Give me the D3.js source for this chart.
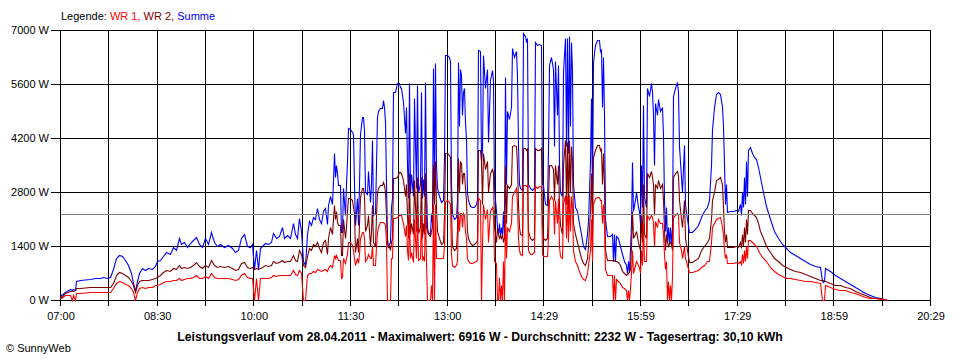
<!DOCTYPE html>
<html><head><meta charset="utf-8">
<script src="https://cdn.jsdelivr.net/npm/d3@7"></script>
<style>
body{margin:0;background:#fff;}
svg{display:block;font-family:"Liberation Sans",Arial,sans-serif;}
</style></head><body>
<svg id="chart" width="960" height="360"></svg>
<script>
// time of each sample in minutes after 07:00
const times = [
0,0.9,4.7,9.3,11.2,12.1,14.0,14.9,18.6,27.9,
32.6,37.2,40.0,43.7,46.5,49.3,52.1,54.9,57.7,60.5,
63.2,66.0,67.9,69.8,71.6,73.5,76.3,79.1,81.8,85.6,
88.4,90.2,93.0,95.8,98.6,102.3,105.1,107.9,110.7,112.5,
115.3,118.1,120.9,123.7,126.5,129.3,132.1,134.9,137.6,140.4,
143.2,146.0,148.8,152.5,156.2,160.0,162.8,165.5,168.3,171.1,
173.9,176.7,178.6,180.4,182.3,184.1,186.0,187.9,190.7,193.4,
196.2,198.1,200.9,203.7,206.5,208.3,211.1,213.9,216.7,218.6,
220.4,222.3,224.1,226.0,227.9,229.7,231.6,233.4,235.3,237.2,
239.0,240.9,242.7,244.6,246.5,248.3,249.2,251.1,253.0,253.9,
254.8,255.8,256.7,257.6,258.5,260.4,261.3,262.3,263.2,265.1,
266.0,266.9,267.8,269.7,271.6,272.5,273.4,274.4,276.2,277.1,
278.1,279.0,280.9,281.8,282.7,283.7,285.5,286.4,288.3,289.2,
290.2,291.1,293.0,293.9,294.8,295.7,297.6,299.5,300.4,301.3,
302.3,303.2,304.1,305.0,306.0,306.9,307.8,308.8,309.7,311.6,
313.4,315.3,316.2,317.1,319.0,320.9,321.8,322.7,323.6,324.6,
325.5,326.4,328.3,329.2,331.1,332.0,332.9,334.8,335.7,336.7,
337.6,338.5,339.5,340.4,341.3,342.2,344.1,345.0,346.0,346.9,
347.8,348.8,349.7,350.6,352.5,354.3,356.2,357.1,358.1,359.9,
361.8,362.7,363.6,364.6,366.4,368.3,369.2,370.1,371.1,372.0,
372.9,373.9,374.8,375.7,376.7,377.6,378.5,379.4,381.3,383.2,
385.0,386.9,387.8,388.7,390.6,391.5,392.5,393.4,395.3,397.1,
398.0,399.9,401.8,402.7,403.6,405.5,406.4,407.3,408.3,409.2,
410.1,411.1,412.0,412.9,413.9,414.8,415.7,417.6,419.4,420.4,
422.2,424.1,425.0,425.9,426.9,427.8,429.7,430.6,432.5,433.4,
434.3,435.2,437.1,439.0,440.8,441.8,443.6,445.5,447.3,448.3,
449.2,451.1,452.9,453.8,454.8,456.6,458.5,459.4,460.4,462.2,
463.1,464.1,465.0,466.9,467.8,469.7,470.6,471.5,472.4,473.4,
474.3,475.2,476.2,477.1,479.0,480.8,482.7,484.5,486.4,488.3,
490.1,491.0,492.9,493.8,494.8,495.7,497.6,499.4,501.3,502.2,
503.1,504.1,505.0,505.9,506.9,508.7,511.5,513.4,514.3,515.2,
516.2,517.1,518.9,520.8,522.7,524.5,526.4,527.3,528.2,529.2,
530.1,531.0,532.0,532.9,534.8,535.7,537.5,538.5,539.4,540.3,
541.3,542.2,543.1,545.0,545.9,547.8,549.6,550.6,551.5,552.4,
553.4,555.2,556.1,558.0,559.9,560.8,561.7,562.7,563.6,564.5,
565.4,566.4,567.3,568.2,569.2,570.1,572.0,573.8,574.7,575.7,
577.5,578.5,580.3,581.3,583.1,585.0,587.8,590.6,593.3,596.1,
598.9,601.7,603.6,605.4,606.4,608.2,610.1,612.0,613.8,615.7,
616.6,617.5,618.5,619.4,620.3,623.1,625.9,628.7,630.5,632.4,
633.3,634.3,635.2,636.1,637.1,638.0,638.9,639.8,641.7,643.6,
645.4,647.3,649.1,651.0,653.8,656.6,660.3,664.0,667.7,671.5,
675.2,678.9,683.6,688.2,692.9,697.5,702.2,706.8,708.7,709.6,
710.5,711.5,716.1,720.8,725.4,730.1,734.7,739.4,744.0,748.7,
753.3,758.0,762.6,766.3,769.1
];
// Summe (W)
const summe = [
100,130,220,280,250,290,260,480,520,540,
560,580,600,560,590,800,1100,1170,1130,1050,
900,700,450,230,500,700,830,780,820,800,
880,1000,1050,1150,1250,1200,1380,1300,1600,1450,
1500,1380,1480,1550,1640,1450,1380,1600,1450,1770,
1500,1400,1450,1380,1420,1340,1250,1300,1600,1700,
1400,1380,1450,800,1300,800,1350,1400,1480,1450,
1500,1740,1600,1650,1900,1600,1680,1620,2000,1700,
1610,2120,1800,1000,900,1700,2050,1950,2160,2100,
2380,2100,2000,2300,2380,1980,2460,2700,2500,3100,
3810,3200,3500,3300,2980,2980,1770,1770,2900,2200,
3000,3590,4450,4430,4350,4300,3000,1945,2640,1945,
3000,4300,4750,4750,4400,2810,2750,3350,2550,3000,
4150,2200,2250,3500,4750,4900,4970,4970,5185,5000,
4610,3000,1600,1380,1450,1500,2400,2640,5400,5400,
5620,5620,5530,5500,5130,4330,5000,3500,2640,5620,
2780,3270,2700,5240,2900,5570,2800,3000,5400,2640,
3150,2700,5650,2900,1900,1760,1700,2250,2000,6010,
2800,6140,3500,2900,2700,2530,2600,3680,6350,6350,
6300,6200,3000,2230,2100,2150,2600,6180,4500,6000,
5830,4800,5400,5500,4600,4200,2800,2600,2450,2400,
2420,2500,2600,6480,6450,3600,3900,6350,5500,6000,
4100,5700,5960,5700,2900,2300,1900,1700,2000,1650,
1900,1700,2300,1600,5790,3000,4900,4700,5000,6530,
6300,6450,5800,4000,3000,2900,2850,6916,6850,6700,
6800,3000,2900,2850,2900,6700,6600,6650,6600,3000,
2980,2500,2460,3900,6100,6300,6000,4000,6200,4800,
6100,3500,2800,2700,5900,6800,4000,6800,3800,6850,
4500,6700,5950,3000,2400,2300,2000,1700,1400,1330,
1700,2050,3570,5240,2800,6170,6600,6740,6750,6450,
6500,5000,6300,4800,2100,1660,1650,1700,1000,1700,
1000,1650,1600,1400,1200,1000,900,700,1000,720,
1300,2000,3580,2300,2600,2800,2400,2300,2000,3500,
2400,5050,2700,2400,5500,5300,5620,5400,4800,3500,
5100,4800,5200,4900,5000,4280,2600,1800,2400,1500,
1900,1450,1900,1450,1900,5300,5500,5650,5400,4000,
3200,2800,4030,2500,2100,1760,1760,1850,1950,2150,
2300,2400,2600,3500,4400,5000,5350,5400,5350,5000,
4500,3500,2500,3000,2280,2300,2320,2330,2300,2500,
2200,2800,2400,3200,2500,3600,2700,3900,3970,3800,
3700,3650,3450,3200,2800,2450,2100,1800,1600,1450,
1350,1250,1170,1100,1000,940,880,850,480,470,
480,820,740,650,560,490,420,350,260,180,
120,80,50,30,0
];
// WR 2 (W), dark red
const wr2 = [
60,90,180,230,240,240,250,300,320,330,
335,340,340,330,350,450,650,720,700,640,
600,480,380,200,380,480,520,510,530,540,
560,600,650,720,780,760,840,800,900,830,
860,830,860,900,990,880,830,920,860,1040,
900,860,880,850,870,830,780,800,960,990,
860,830,860,800,840,800,820,860,900,880,
910,1010,960,980,1050,980,1020,1000,1165,1050,
1010,1300,1200,900,850,1150,1350,1300,1450,1400,
1500,1350,1250,1500,1560,1200,1620,1900,1700,2100,
2460,2100,2300,2020,1945,1945,1170,1170,2100,1600,
1900,2300,2640,2640,2600,2400,2250,1240,1600,1240,
2000,2680,2900,2900,2700,1800,1945,2200,1400,1800,
2460,1500,1400,2200,2810,2900,2980,2980,3060,2980,
2810,2200,1500,1380,1400,1300,1500,1600,3160,3160,
3200,3330,3330,3300,3100,2700,3000,2200,1600,3300,
1700,2000,1700,3100,1800,3200,1750,1900,3200,1600,
2000,1700,3300,1900,1800,1700,1650,1800,1900,3500,
2500,3600,2400,1800,1600,1450,1500,2200,3800,3800,
3750,3700,2300,1400,1300,1350,1800,3680,2800,3600,
3550,3000,3300,3300,2900,2600,1800,1600,1480,1430,
1450,1500,1560,3890,3880,3600,2500,3800,3400,3600,
2800,3300,3400,3300,1900,1500,1900,1700,1600,1650,
1600,1700,1500,1600,3500,2000,2980,2900,3000,4000,
4020,4000,3500,2500,1900,1700,1690,3940,3940,3900,
3940,1800,1600,1560,1600,3930,3900,3900,3930,1900,
1600,1560,1600,2600,3500,3500,3400,2600,3500,3000,
3500,2400,1950,1700,3500,4150,2500,4100,2300,4150,
2800,4000,3600,2000,1700,1500,1300,1100,950,910,
1100,1400,2300,3300,1900,3700,3900,4020,4020,3900,
3950,3000,3800,3000,1300,1040,1040,1050,1000,1040,
1000,1000,980,900,750,700,650,680,700,720,
800,1400,2300,1600,1700,1800,1500,1400,1300,2200,
1500,3000,1700,1600,3300,3200,3350,3200,3000,2200,
3000,2900,3100,2900,3000,2600,1800,1300,1700,1500,
1400,1450,1500,1450,1300,3200,3300,3350,3250,2600,
2100,1900,2600,1600,1300,990,990,1050,1100,1300,
1400,1500,1600,2100,2600,2800,3100,3150,3200,3000,
2400,1800,1500,1700,1380,1380,1380,1400,1380,1500,
1350,1700,1400,1900,1500,2100,1700,2330,2330,2250,
2200,2150,2000,1800,1600,1400,1250,1100,1000,920,
860,800,760,720,680,630,580,530,520,510,
500,500,450,400,380,350,300,240,170,120,
90,60,40,20,0
];
// WR 1 (W), red
const wr1 = [
40,60,120,130,0,130,0,170,190,200,
205,210,215,210,220,300,430,480,470,420,
390,300,200,0,200,300,330,320,340,350,
380,390,420,460,500,480,530,510,560,520,
540,560,560,600,650,580,560,620,580,700,
600,560,570,560,570,550,530,540,640,700,
600,560,580,0,560,0,560,570,580,580,
600,650,620,640,660,640,650,640,780,680,
650,780,700,0,0,650,700,690,740,720,
800,780,760,780,800,760,820,900,850,1000,
1170,1100,1170,1090,1050,1050,560,600,1090,960,
1090,1200,1510,1510,1430,1300,1090,910,1090,960,
1200,1600,1770,1770,1600,1000,1090,1200,1090,1100,
1430,910,900,1400,1770,1900,2030,2030,2030,1990,
1945,1500,0,0,0,0,1090,1100,2120,2120,
2150,2200,2200,2200,2000,1650,1950,1300,1050,2250,
1080,1250,990,2100,1100,2300,1050,1100,2200,1050,
1150,1000,2300,1000,0,0,0,400,0,2500,
0,2500,1100,1100,1100,1090,1100,1400,2550,2590,
2550,2500,1200,900,850,900,1000,2300,1800,2250,
2250,1900,2250,2200,1800,1600,1100,1000,960,960,
980,1000,1050,2640,2600,0,1400,2500,2100,2350,
1500,2300,2400,2300,1000,950,0,0,600,0,
400,0,1000,0,2300,1100,1900,1800,2000,2700,
2800,2900,2500,1600,1300,1200,1160,2980,2980,2950,
2980,1300,1200,1200,1250,2950,2900,2950,2950,1200,
1130,1130,1150,1600,2600,2700,2600,1700,2600,2000,
2650,1400,1150,1100,2500,2720,1600,2700,1500,2720,
1800,2700,2400,1300,1000,900,750,620,550,520,
700,900,1300,2100,1000,2500,2650,2670,2670,2600,
2600,2000,2500,1900,800,650,650,660,0,650,
0,550,500,450,350,300,260,0,250,0,
300,700,1300,700,900,1000,900,850,700,1300,
900,2000,1000,1000,2200,2100,2200,2150,2000,1400,
2050,1900,2100,2000,2000,1700,1200,800,1000,0,
500,0,400,0,600,2150,2200,2250,2200,1500,
1300,1100,1400,1100,900,730,730,750,780,850,
900,1000,1000,1500,1900,2000,2100,2130,2150,1900,
1700,1300,1100,1200,960,960,960,980,960,1000,
900,1200,950,1300,1000,1400,1100,1550,1560,1500,
1450,1400,1300,1200,1100,1000,850,750,680,620,
580,560,540,520,500,480,460,440,0,0,
0,400,330,290,270,250,210,170,120,80,
60,40,30,15,0
];
const yTicks = [0, 1400, 2800, 4200, 5600, 7000];
const xTickLabels = ["07:00","08:30","10:00","11:30","13:00","14:29","15:59","17:29","18:59","20:29"];
const dayMinutes = 809;       // 07:00 .. 20:29
const gridCount = 18;
const average = 2232;
const legendParts = [["Legende: ","#000000"],["WR 1, ","#FF0000"],["WR 2, ","#800000"],["Summe","#0000FF"]];
const titleText = "Leistungsverlauf vom 28.04.2011 - Maximalwert: 6916 W - Durchschnitt: 2232 W - Tagesertrag: 30,10 kWh";

const svg = d3.select("#chart");
const x = d3.scaleLinear().domain([0, dayMinutes]).range([60, 930]);
const y = d3.scaleLinear().domain([0, 7000]).range([300, 30]);
const px = v => Math.round(x(v)) + 0.5;
const py = v => Math.round(y(v)) + 0.5;

const gridTimes = d3.range(gridCount + 1).map(k => k * dayMinutes / gridCount);

const grid = svg.append("g").attr("shape-rendering", "crispEdges");
grid.selectAll("line.v").data(gridTimes).join("line")
  .attr("x1", d => px(d)).attr("x2", d => px(d))
  .attr("y1", py(7000)).attr("y2", py(0) + 5)
  .attr("stroke", "#000").attr("stroke-width", 1);
grid.selectAll("line.h").data(yTicks).join("line")
  .attr("x1", 51).attr("x2", px(dayMinutes))
  .attr("y1", d => py(d)).attr("y2", d => py(d))
  .attr("stroke", "#000").attr("stroke-width", 1);

// y labels
svg.append("g").selectAll("text").data(yTicks).join("text")
  .attr("x", 49).attr("y", d => y(d)).attr("dy", "0.36em")
  .attr("text-anchor", "end").attr("font-size", 11).attr("fill", "#000")
  .text(d => d + " W");

// x labels (every second grid line)
svg.append("g").selectAll("text").data(xTickLabels).join("text")
  .attr("x", (d, i) => x(gridTimes[i * 2]) + 1).attr("y", 320)
  .attr("text-anchor", "middle").attr("font-size", 11).attr("fill", "#000")
  .text(d => d);

// series
const idx = d3.range(times.length);
const mk = vals => d3.line().curve(d3.curveLinear)
  .x(i => px(times[i])).y(i => py(vals[i]))(idx);
const series = svg.append("g").attr("fill", "none").attr("stroke-width", 1.1)
  .attr("stroke-linejoin", "miter");
series.append("path").attr("d", mk(summe)).attr("stroke", "#0000FF");
series.append("path").attr("d", mk(wr2)).attr("stroke", "#800000");
series.append("path").attr("d", mk(wr1)).attr("stroke", "#FF0000");

// average line
svg.append("line").attr("shape-rendering", "crispEdges")
  .attr("x1", px(0)).attr("x2", px(dayMinutes))
  .attr("y1", py(average)).attr("y2", py(average))
  .attr("stroke", "#808080").attr("stroke-width", 1);

// legend
const leg = svg.append("text").attr("x", 61).attr("y", 20).attr("font-size", 11);
legendParts.forEach(([t, c]) => leg.append("tspan").attr("fill", c).text(t));

// title
const title = svg.append("text").attr("x", 480).attr("y", 341)
  .attr("text-anchor", "middle").attr("font-weight", "bold").attr("font-size", 11)
  .attr("fill", "#000").text(titleText);
const tw = title.node().getComputedTextLength();
title.attr("font-size", 11 * 606 / tw);

svg.append("text").attr("x", 6).attr("y", 352).attr("font-size", 11).attr("fill", "#000")
  .text("© SunnyWeb");
</script>
</body></html>
